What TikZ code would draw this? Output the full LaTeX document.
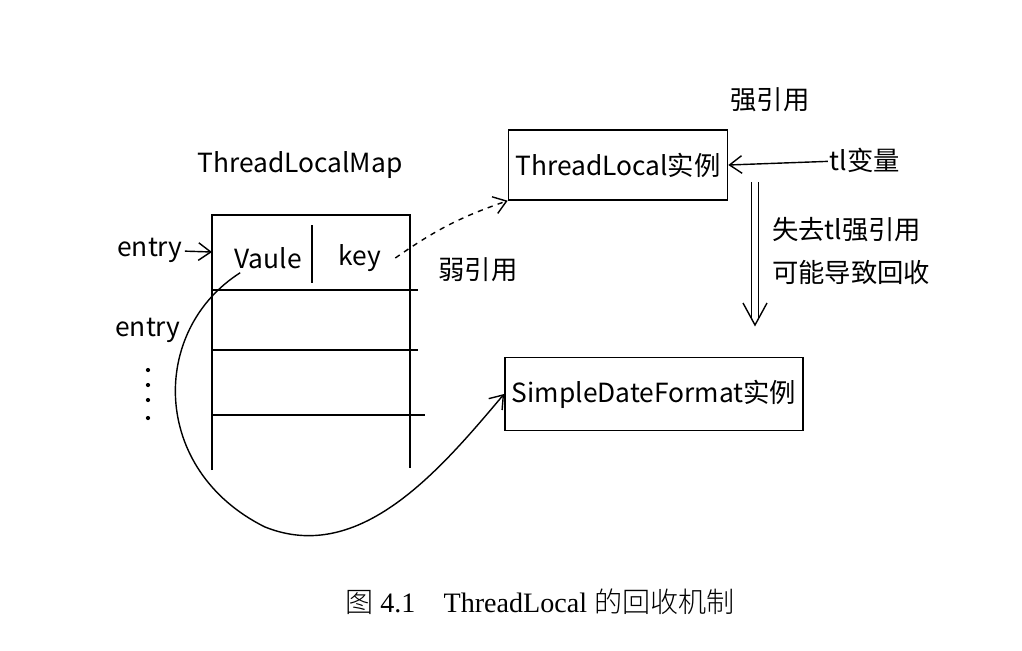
\documentclass[tikz,border=0pt]{standalone}
\usepackage{fontspec}
\setmainfont{Liberation Serif}
\newfontfamily\cjk{Noto Sans CJK SC}
\newfontfamily\cjkserif{Noto Sans CJK SC Light}
\usetikzlibrary{arrows.meta}
\usetikzlibrary{calc}
\usetikzlibrary{positioning}

\tikzset{
  hand/.style={font=\cjk\fontsize{15}{18}\selectfont, inner sep=1pt},
  objbox/.style={draw, thick, hand, inner sep=4pt},
  ref/.style={thick, -{Straight Barb[length=7pt,width=10pt]}},
}

\begin{document}
\begin{tikzpicture}[x=0.02cm,y=-0.02cm]
      \useasboundingbox (0,0) rectangle (1022,650);

      % Map
      \node[hand] (mapname) at (300,165) {ThreadLocalMap};
      \draw[thick] (212,470) -- (212,215) -- (410,215) -- (410,468);
      \foreach \y/\e in {290/418,350/418,415/425}
      {
        \coordinate (R\y) at (212,\y);
        \draw[thick] (R\y) -- (\e,\y);
      }
      \draw[thick] (312,225) -- (312,283);
      \node[hand] (value) at (268,258) {Vaule};
      \node[hand] (key) at (360,258) {key};

      % Entries
      \node[hand] (entryA) at (150,250) {entry};
      \node[hand] (entryB) at (148,330) {entry};
      \coordinate (slot) at (212,252);
      \draw[ref] (entryA) -- (slot);
      \foreach \y in {370,385,400,418}
      {
        \fill (148,\y) circle (1.2pt);
      }

      % Objects
      \node[objbox, minimum width=4.26cm, minimum height=1.4cm] (tlobj) at (618,165) {ThreadLocal实例};
      \node[objbox, minimum width=5.84cm, minimum height=1.45cm] (sdfobj) at (654,394) {SimpleDateFormat实例};
      \node[hand] (tlvar) at (865,160) {tl变量};
      \node[hand] (strong) at (770,100) {强引用};
      \node[hand] (weak) at (478,270) {弱引用};

      % References
      \draw[ref, dashed] ($(key.east)+(12,0)$) to[bend left=8] (tlobj.south west);
      \draw[ref] (tlvar) -- (tlobj.east);
      \draw[thick, -{Straight Barb[length=7pt,width=10pt]}] ($(value.south west)+(8,2)$)
        .. controls (150,330) and (150,470) .. (265,527)
        .. controls (360,565) and (440,470) .. (sdfobj.west);

      % Lost reference
      \coordinate (lostA) at (755,182);
      \coordinate (lostB) at (755,325);
      \draw[thick, double distance=3pt] (lostA) -- ($(lostB)+(0,-6)$);
      \draw[thick] ($(lostB)+(-12,-22)$) -- (lostB) -- ($(lostB)+(12,-22)$);
      \node[hand, anchor=west] (lostA1) at (770,230) {失去tl强引用};
      \node[hand, anchor=west] (lostA2) at (770,272) {可能导致回收};

      % Caption
      \node[font=\fontsize{16}{19}\selectfont] (caption) at (540,602)
        {{\cjkserif 图} 4.1\quad ThreadLocal {\cjkserif 的回收机制}};
\end{tikzpicture}
\end{document}
